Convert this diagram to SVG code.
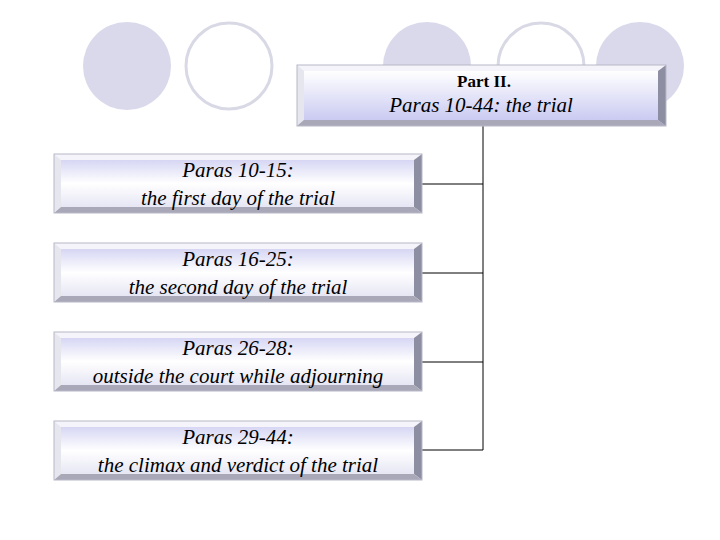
<svg xmlns="http://www.w3.org/2000/svg" width="720" height="540" viewBox="0 0 720 540">
<defs>
<linearGradient id="face" x1="0" y1="0" x2="0" y2="1">
<stop offset="0" stop-color="#d6d6f4"/>
<stop offset="0.5" stop-color="#ffffff"/>
<stop offset="1" stop-color="#e6e6f4"/>
</linearGradient>
<linearGradient id="faceT" x1="0" y1="0" x2="0" y2="1">
<stop offset="0" stop-color="#ffffff"/>
<stop offset="1" stop-color="#cacaf2"/>
</linearGradient>
<style>
.fill{fill:#d9d9eb}
.ring{fill:#ffffff;stroke:#d9d9e6;stroke-width:3}
.bt{fill:#f4f4fa}
.bl{fill:#e6e6ee}
.br{fill:#8e8ea2}
.bb{fill:#a8a8b8}
.edge{fill:none;stroke:#b8b8c8;stroke-width:1}
.conn{fill:none;stroke:#000000;stroke-width:1}
.t{font-family:"Liberation Serif",serif;font-style:italic;font-size:21px;fill:#000000;text-anchor:middle}
.h{font-family:"Liberation Serif",serif;font-weight:bold;font-size:17px;fill:#000000;text-anchor:middle}
</style>
</defs>
<rect width="720" height="540" fill="#ffffff"/>
<g id="decor">
<circle class="fill" cx="127" cy="66" r="44"/>
<circle class="ring" cx="229" cy="66" r="43"/>
<circle class="fill" cx="427" cy="66" r="44"/>
<circle class="ring" cx="541" cy="66" r="43"/>
<circle class="fill" cx="640" cy="66" r="44"/>
</g>
<g id="connectors">
<path class="conn" d="M483,126 V450 M422,184 H483 M422,273 H483 M422,362 H483 M422,450 H483"/>
</g>
<g id="node-top">
<rect x="297" y="65" width="369" height="61" fill="url(#faceT)"/>
<polygon class="bt" points="297,65 666,65 658,71 304,71"/>
<polygon class="bl" points="297,65 304,71 304,120 297,126"/>
<polygon class="br" points="666,65 666,126 658,120 658,71"/>
<polygon class="bb" points="297,126 304,120 658,120 666,126"/>
<rect x="304" y="71" width="354" height="49" fill="url(#faceT)"/>
<rect class="edge" x="297" y="65" width="369" height="61"/>
<text class="h" x="484" y="87">Part II.</text>
<text class="t" x="481" y="112">Paras 10-44: the trial</text>
</g>
<g id="node-1">
<polygon class="bt" points="54,154 422,154 414,160 61,160"/>
<polygon class="bl" points="54,154 61,160 61,207 54,213"/>
<polygon class="br" points="422,154 422,213 414,207 414,160"/>
<polygon class="bb" points="54,213 61,207 414,207 422,213"/>
<rect x="61" y="160" width="353" height="47" fill="url(#face)"/>
<rect class="edge" x="54" y="154" width="368" height="59"/>
<text class="t" x="238" y="177">Paras 10-15:</text>
<text class="t" x="238" y="205">the first day of the trial</text>
</g>
<g id="node-2">
<polygon class="bt" points="54,243 422,243 414,249 61,249"/>
<polygon class="bl" points="54,243 61,249 61,296 54,302"/>
<polygon class="br" points="422,243 422,302 414,296 414,249"/>
<polygon class="bb" points="54,302 61,296 414,296 422,302"/>
<rect x="61" y="249" width="353" height="47" fill="url(#face)"/>
<rect class="edge" x="54" y="243" width="368" height="59"/>
<text class="t" x="238" y="266">Paras 16-25:</text>
<text class="t" x="238" y="294">the second day of the trial</text>
</g>
<g id="node-3">
<polygon class="bt" points="54,332 422,332 414,338 61,338"/>
<polygon class="bl" points="54,332 61,338 61,385 54,391"/>
<polygon class="br" points="422,332 422,391 414,385 414,338"/>
<polygon class="bb" points="54,391 61,385 414,385 422,391"/>
<rect x="61" y="338" width="353" height="47" fill="url(#face)"/>
<rect class="edge" x="54" y="332" width="368" height="59"/>
<text class="t" x="238" y="355">Paras 26-28:</text>
<text class="t" x="238" y="383">outside the court while adjourning</text>
</g>
<g id="node-4">
<polygon class="bt" points="54,421 422,421 414,427 61,427"/>
<polygon class="bl" points="54,421 61,427 61,474 54,480"/>
<polygon class="br" points="422,421 422,480 414,474 414,427"/>
<polygon class="bb" points="54,480 61,474 414,474 422,480"/>
<rect x="61" y="427" width="353" height="47" fill="url(#face)"/>
<rect class="edge" x="54" y="421" width="368" height="59"/>
<text class="t" x="238" y="444">Paras 29-44:</text>
<text class="t" x="238" y="472">the climax and verdict of the trial</text>
</g>
</svg>
